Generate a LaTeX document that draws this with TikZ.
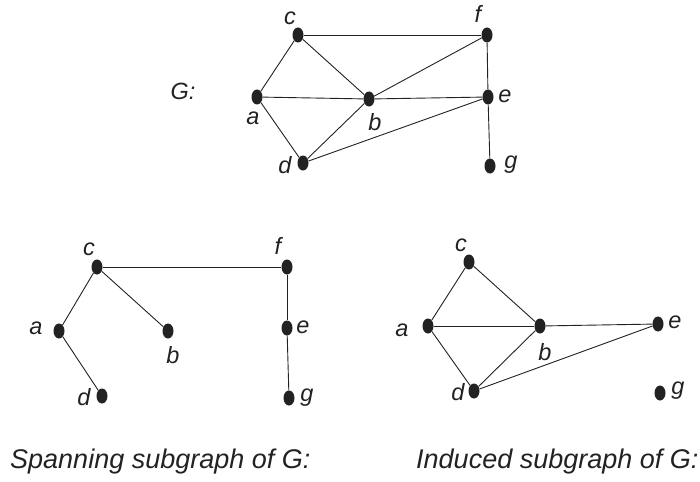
\documentclass[tikz,border=0pt]{standalone}
\usepackage{fontspec}
\setmainfont{Liberation Sans}
\usetikzlibrary{shapes.geometric}
\definecolor{ink}{HTML}{222222}
\begin{document}
\begin{tikzpicture}[x=1pt,y=-1pt,
  vtx/.style={ellipse,fill=ink,draw=none,minimum width=11pt,minimum height=15pt,inner sep=0pt},
  lbl/.style={inner sep=0pt,text=ink,font=\fontsize{23.5}{25}\selectfont\itshape},
  captxt/.style={inner sep=0pt,text=ink,font=\fontsize{27}{29}\selectfont\itshape,anchor=base west},
  edgeline/.style={draw=ink,line width=0.9pt}]
\useasboundingbox (0,0) rectangle (700,481);
% --- G ---
\node[vtx] (c1) at (298,35) {};
\node[vtx] (f1) at (487,35) {};
\node[vtx] (a1) at (257,97) {};
\node[vtx] (b1) at (369,99) {};
\node[vtx] (e1) at (488,97) {};
\node[vtx] (d1) at (303,163) {};
\node[vtx] (g1) at (490,166) {};
\node[lbl] (lc1) at (290,18) {c};
\node[lbl] (lf1) at (478,14) {f};
\node[lbl] (la1) at (253,118) {a};
\node[lbl] (lb1) at (375,122) {b};
\node[lbl] (le1) at (505,96) {e};
\node[lbl] (ld1) at (285,165) {d};
\node[lbl] (lg1) at (511,165) {g};
\node[lbl] (G) at (183,91) {G:};
\foreach \u/\v in {c1/f1,c1/a1,c1/b1,a1/b1,b1/e1,b1/f1,f1/e1,e1/g1,a1/d1,d1/b1,d1/e1}
  \draw[edgeline] (\u) -- (\v);
% --- spanning ---
\node[vtx] (c2) at (97,267) {};
\node[vtx] (f2) at (287,267) {};
\node[vtx] (a2) at (59,331) {};
\node[vtx] (b2) at (168,331) {};
\node[vtx] (e2) at (287,328) {};
\node[vtx] (d2) at (102,396) {};
\node[vtx] (g2) at (289,398) {};
\node[lbl] (lc2) at (89,249) {c};
\node[lbl] (lf2) at (278,246) {f};
\node[lbl] (la2) at (36,328) {a};
\node[lbl] (lb2) at (173,355) {b};
\node[lbl] (le2) at (303,327) {e};
\node[lbl] (ld2) at (84,397) {d};
\node[lbl] (lg2) at (307,398) {g};
\foreach \u/\v in {c2/f2,c2/a2,c2/b2,a2/d2,f2/e2,e2/g2}
  \draw[edgeline] (\u) -- (\v);
% --- induced ---
\node[vtx] (c3) at (469,262) {};
\node[vtx] (a3) at (428,326) {};
\node[vtx] (b3) at (540,326) {};
\node[vtx] (e3) at (658,324) {};
\node[vtx] (d3) at (474,391) {};
\node[vtx] (g3) at (660,393) {};
\node[lbl] (lc3) at (461,245) {c};
\node[lbl] (la3) at (402,330) {a};
\node[lbl] (lb3) at (545,352) {b};
\node[lbl] (le3) at (675,322) {e};
\node[lbl] (ld3) at (458,392) {d};
\node[lbl] (lg3) at (678,391) {g};
\foreach \u/\v in {c3/a3,c3/b3,a3/b3,b3/e3,a3/d3,d3/b3,d3/e3}
  \draw[edgeline] (\u) -- (\v);
% captions
\node[captxt] (cap1) at (10,468) {Spanning subgraph of G:};
\node[captxt] (cap2) at (416,468) {Induced subgraph of G:};
\end{tikzpicture}
\end{document}
